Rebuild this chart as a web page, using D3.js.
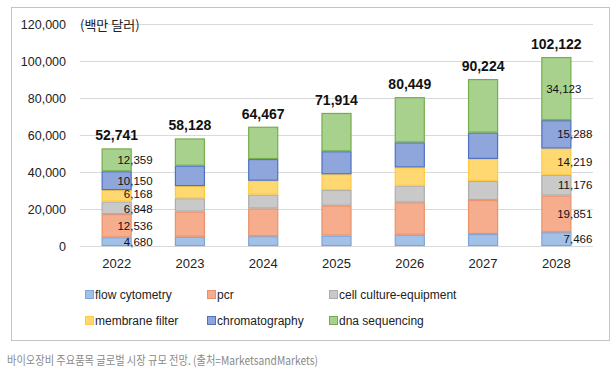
<!DOCTYPE html>
<html>
<head>
<meta charset="utf-8">
<script src="https://cdn.jsdelivr.net/npm/d3@7"></script>
<style>
  body { margin: 0; background: #fff; }
  text { font-family: "Liberation Sans", Arial, sans-serif; }
</style>
</head>
<body>
<div id="chart-area"></div>
<script>
// data (백만 달러)
var years = ["2022", "2023", "2024", "2025", "2026", "2027", "2028"]
var flowCytometry = [4680, 5000, 5300, 5600, 6100, 6500, 7466]
var pcr = [12536, 13600, 15000, 16200, 17500, 18400, 19851]
var cellCulture = [6848, 7200, 7500, 8500, 9000, 10300, 11176]
var membraneFilter = [6168, 6600, 7500, 8500, 9900, 11900, 14219]
var chromatography = [10150, 11000, 11700, 12400, 13500, 14200, 15288]
var dnaSequencing = [12359, 14728, 17467, 20714, 24449, 28924, 34123]
var totals = [52741, 58128, 64467, 71914, 80449, 90224, 102122]
var yTicks = [0, 20000, 40000, 60000, 80000, 100000, 120000]
var labelledYears = ["2022", "2028"]

var keys = ["flow cytometry", "pcr", "cell culture-equipment", "membrane filter", "chromatography", "dna sequencing"]
var seriesValues = [flowCytometry, pcr, cellCulture, membraneFilter, chromatography, dnaSequencing]
var fills = ["#a3c1e7", "#f5ad8d", "#c9c9c9", "#ffd872", "#8fa6dc", "#a9d18e"]
var strokes = ["#7ba6db", "#e9926a", "#adadad", "#ffcb3d", "#4f71c0", "#74ae4c"]

var table = years.map((yr, i) => {
    var row = {year: yr}
    keys.forEach((k, j) => { row[k] = seriesValues[j][i] })
    return row
})

var width = 616
var height = 376
var plot = {left: 80, right: 593, top: 24, bottom: 246}

var svg = d3.select("#chart-area").append("svg")
.attr("width", width)
.attr("height", height)

// frame
svg.append("rect")
.attr("x", 11.5).attr("y", 7.5)
.attr("width", 598).attr("height", 333)
.attr("fill", "#fff")
.attr("stroke", "#c4c4c4")

var x = d3.scaleBand()
.domain(years)
.range([plot.left, plot.right])
.paddingInner(0.59)
.paddingOuter(0.295)

var y = d3.scaleLinear()
.domain([0, 120000])
.range([plot.bottom, plot.top])

// Y axis + gridlines
var yAxis = svg.append("g")
.attr("transform", "translate(" + plot.left + ",0)")
.call(d3.axisLeft(y).tickValues(yTicks).tickFormat(d3.format(","))
    .tickSize(-(plot.right - plot.left)).tickPadding(14))
yAxis.select(".domain").remove()
yAxis.selectAll("line").attr("stroke", "#d9d9d9")
yAxis.selectAll("text").attr("font-size", "12.5px").attr("fill", "#222")

// X axis
var xAxis = svg.append("g")
.attr("transform", "translate(0," + plot.bottom + ")")
.call(d3.axisBottom(x).tickSize(0).tickPadding(13))
xAxis.select(".domain").remove()
xAxis.selectAll("text").attr("font-size", "13px").attr("fill", "#222")

// unit
svg.append("text")
.attr("x", 80).attr("y", 29.5)
.attr("font-size", "13px")
.attr("fill", "#222")
.style("font-family", "'Noto Sans CJK KR', sans-serif")
.text("(백만 달러)")

var stacked = d3.stack().keys(keys)(table)

var layers = svg.selectAll("g.layer").data(stacked).enter().append("g")
.attr("class", "layer")

layers.selectAll("rect").data((d, i) => d.map(p => ({p: p, i: i}))).enter().append("rect")
.attr("x", d => x(d.p.data.year) + 0.5)
.attr("y", d => y(d.p[1]) + 0.5)
.attr("width", x.bandwidth() - 1)
.attr("height", d => y(d.p[0]) - y(d.p[1]) - 1)
.attr("fill", d => fills[d.i])
.attr("stroke", d => strokes[d.i])
.attr("stroke-width", 1.2)

// segment labels (small nudges so the thin 2022 ones don't collide)
var nudge = [0, 0, 1.5, -1.5, 0, 0]
stacked.forEach((layer, i) => {
    layer.filter(p => labelledYears.includes(p.data.year)).forEach(p => {
        var cx = x(p.data.year) + x.bandwidth() / 2
        var dx = (p.data.year == "2028" && i == 5) ? 25 : 36
        var ny = p.data.year == "2022" ? nudge[i] : 0
        svg.append("text")
        .attr("x", cx + dx)
        .attr("y", (y(p[0]) + y(p[1])) / 2 + ny)
        .attr("dy", "0.35em")
        .attr("text-anchor", "end")
        .attr("font-size", "11.5px")
        .attr("fill", "#111")
        .text(d3.format(",")(p[1] - p[0]))
    })
})

// totals
svg.selectAll("text.total").data(years).enter().append("text")
.attr("class", "total")
.attr("x", d => x(d) + x.bandwidth() / 2)
.attr("y", (d, i) => y(totals[i]) - 8)
.attr("text-anchor", "middle")
.attr("font-size", "14px")
.attr("font-weight", "bold")
.attr("fill", "#111")
.text((d, i) => d3.format(",")(totals[i]))

// legend
var legendCols = [85, 207, 329]
var legendRows = [295, 321]
var legend = svg.selectAll("g.legend").data(keys).enter().append("g")
.attr("class", "legend")
.attr("transform", (d, i) => "translate(" + legendCols[i % 3] + "," + legendRows[Math.floor(i / 3)] + ")")
legend.append("rect")
.attr("x", 0.5).attr("y", -4.5)
.attr("width", 8).attr("height", 8)
.attr("fill", (d, i) => fills[i])
.attr("stroke", (d, i) => strokes[i])
legend.append("text")
.attr("x", 10)
.attr("dy", "0.35em")
.attr("font-size", "12px")
.attr("fill", "#222")
.text(d => d)

// caption
svg.append("text")
.attr("x", 7).attr("y", 365)
.attr("font-size", "12px")
.attr("fill", "#8a8a8a")
.attr("textLength", 311)
.attr("lengthAdjust", "spacingAndGlyphs")
.style("font-family", "'Noto Sans CJK KR', sans-serif")
.text("바이오장비 주요품목 글로벌 시장 규모 전망. (출처=MarketsandMarkets)")
</script>
</body>
</html>
